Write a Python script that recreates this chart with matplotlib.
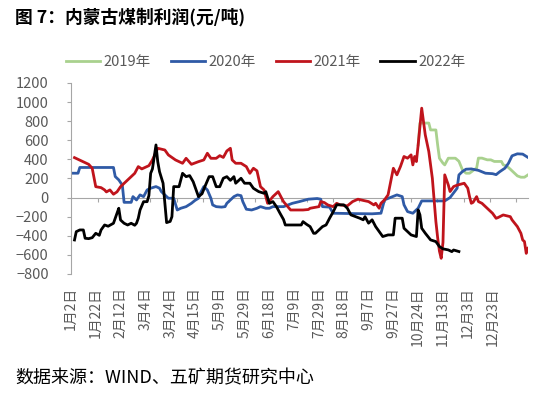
import matplotlib
matplotlib.use("Agg")
import matplotlib.pyplot as plt

plt.rcParams['font.family'] = ['Noto Sans CJK SC', 'DejaVu Sans']

# category axis: trading-day slots 0..258, labelled every 14 slots
n_days = 259
x_labels = ["1月2日", "1月22日", "2月12日", "3月4日", "3月24日", "4月15日", "5月9日",
            "5月29日", "6月18日", "7月9日", "7月29日", "8月18日", "9月7日", "9月27日",
            "10月24日", "11月13日", "12月3日", "12月23日"]
label_step = 14

# (trading-day slot, profit) pairs per year
s2019 = [(196, 552), (197, 780), (202, 780), (203, 708), (206, 708), (207, 550), (208, 412),
         (210, 360), (211, 342), (213, 412), (217, 412), (219, 380), (221, 290), (223, 255),
         (225, 255), (228, 297), (229, 308), (230, 413), (232, 413), (235, 395), (237, 395),
         (239, 378), (243, 378), (244, 343), (246, 330), (248, 297), (250, 262), (252, 227),
         (254, 213), (256, 213), (258, 238)]

s2020 = [(0, 255), (4, 255), (5, 315), (24, 315), (25, 220), (27, 185), (29, 130), (30, -50),
         (34, -50), (35, 10), (37, -25), (39, 28), (41, 10), (43, 80), (45, 98), (48, 115),
         (50, 98), (51, 63), (53, 28), (55, -7), (58, -7), (60, -130), (62, -112), (65, -95),
         (68, -60), (70, -30), (72, -7), (73, 45), (75, 115), (77, 80), (79, -7), (80, -77),
         (82, -95), (85, -100), (87, -95), (88, -60), (92, 10), (94, 28), (96, 20), (97, -42),
         (99, -122), (102, -130), (105, -112), (107, -95), (110, -112), (112, -112),
         (114, -95), (120, -95), (125, -60), (129, -42), (134, -17), (139, -10), (141, -17),
         (142, -95), (146, -100), (148, -164), (160, -168), (170, -170), (175, -164),
         (177, -24), (184, 28), (187, 10), (188, -76), (190, -147), (193, -164), (196, -111),
         (198, -35), (211, -35), (214, 0), (218, 98), (219, 237), (221, 273), (223, 297),
         (226, 300), (230, 285), (234, 255), (238, 250), (240, 240), (242, 270), (245, 308),
         (247, 360), (249, 437), (252, 458), (255, 455), (258, 420)]

s2021 = [(2, 418), (6, 383), (10, 348), (12, 307), (14, 114), (17, 104), (19, 80), (20, 59),
         (22, 80), (24, 35), (26, 60), (28, 114), (32, 184), (36, 254), (38, 324), (40, 300),
         (44, 334), (46, 394), (49, 516), (53, 498), (55, 446), (59, 394), (63, 359),
         (65, 411), (68, 348), (72, 376), (75, 394), (77, 464), (79, 411), (82, 411),
         (84, 439), (86, 420), (88, 488), (90, 516), (91, 394), (93, 359), (96, 359),
         (99, 324), (101, 254), (103, 307), (105, 280), (107, 114), (109, 80), (111, -60),
         (114, 10), (117, 62), (120, -43), (124, -130), (127, -130), (131, -130), (134, -125),
         (135, -112), (140, -95), (141, -42), (143, -52), (145, -77), (148, -95), (150, -60),
         (152, -77), (156, -87), (159, -42), (162, -17), (165, -30), (168, -42), (171, -77),
         (172, -60), (174, -112), (175, -60), (177, -24), (179, 28), (182, 307), (184, 238),
         (186, 325), (188, 430), (190, 412), (192, 447), (193, 342), (194, 430), (195, 377),
         (196, 552), (198, 936), (200, 657), (202, 482), (204, 203), (206, -251),
         (207, -420), (208, -560), (209, -636), (210, -470), (211, 238), (213, 133),
         (214, 63), (216, 115), (218, 130), (220, 140), (222, 150), (224, 98), (225, 10),
         (226, -60), (227, -50), (229, 10), (230, -42), (232, -60), (234, -95), (236, -130),
         (238, -165), (240, -217), (241, -210), (244, -182), (248, -200), (249, -234),
         (252, -304), (254, -374), (255, -444), (256, -460), (257, -584), (258, -531)]

s2022 = [(2, -444), (3, -357), (5, -339), (7, -339), (8, -426), (10, -430), (12, -420),
         (14, -374), (16, -395), (17, -339), (19, -287), (21, -300), (24, -269), (26, -164),
         (27, -112), (28, -235), (30, -269), (32, -287), (34, -269), (36, -290), (37, -269),
         (38, -217), (39, -130), (41, -43), (43, -43), (44, 20), (45, 254), (46, 300),
         (48, 551), (49, 376), (50, 271), (52, 150), (54, -262), (56, -250), (57, -200),
         (58, 115), (60, 114), (61, 114), (63, 254), (65, 219), (67, 230), (69, 166),
         (72, 10), (74, 40), (76, 132), (78, 219), (80, 219), (82, 114), (84, 114), (86, 202),
         (88, 219), (90, 180), (92, 219), (93, 150), (96, 202), (98, 150), (101, 150),
         (103, 97), (106, 62), (109, 45), (110, 62), (112, -60), (114, -42), (116, -95),
         (118, -164), (120, -230), (121, -287), (130, -287), (131, -252), (133, -280),
         (135, -304), (137, -374), (138, -374), (140, -339), (142, -304), (144, -287),
         (145, -252), (146, -216), (148, -150), (150, -76), (154, -76), (156, -111),
         (158, -181), (163, -216), (165, -233), (166, -200), (168, -268), (170, -233),
         (172, -304), (174, -356), (176, -408), (179, -391), (182, -391), (183, -216),
         (187, -216), (188, -321), (190, -356), (192, -391), (195, -408), (196, -129),
         (197, -181), (198, -321), (200, -373), (203, -443), (206, -461), (208, -513),
         (210, -537), (213, -548), (215, -566), (216, -549), (219, -565)]

y_ticks = list(range(-800, 1201, 200))

c2019 = "#A9D18E"
c2020 = "#2F5AA6"
c2021 = "#C0141C"
c2022 = "#000000"
gray = "#595959"
axis_gray = "#A6A6A6"

fig = plt.figure(figsize=(5.5, 3.98), dpi=100)
ax = fig.add_axes([0.129, 0.3116, 0.831, 0.48])

lw = 2.0
handles = []
for data, col, lab in [(s2019, c2019, "2019年"), (s2020, c2020, "2020年"),
                       (s2021, c2021, "2021年"), (s2022, c2022, "2022年")]:
    d, v = zip(*data)
    h, = ax.plot(d, v, color=col, lw=lw, label=lab)
    handles.append(h)

ax.set_xlim(0, n_days - 1)
ax.set_ylim(-800, 1200)
ax.set_yticks(y_ticks)
ax.set_yticklabels([f"{t}".replace("-", "\u2212") for t in y_ticks])

for s in ["top", "right", "bottom"]:
    ax.spines[s].set_visible(False)
ax.spines["left"].set_color(axis_gray)
ax.spines["left"].set_linewidth(0.8)
ax.tick_params(axis="y", direction="out", length=3, width=0.8, color=axis_gray,
               labelcolor=gray, labelsize=10.5, pad=13)

ax.set_xticks([i * label_step for i in range(len(x_labels))])
ax.set_xticklabels(x_labels, rotation=90, va="top", ha="center")
ax.tick_params(axis="x", length=0, pad=9.5, labelcolor=gray, labelsize=10)

sec = ax.secondary_xaxis(0.4)
sec.set_xticks([15.4 + k * 14.73 for k in range(17)])
sec.set_xticklabels([])
sec.tick_params(axis="x", direction="out", length=3, width=0.8, color=axis_gray)
sec.spines["bottom"].set_color(axis_gray)
sec.spines["bottom"].set_linewidth(0.8)

leg = fig.legend(handles=handles, loc="center", bbox_to_anchor=(0.483, 0.845),
                 ncol=4, frameon=False, fontsize=10.5, handlelength=2.35,
                 handletextpad=0.25, columnspacing=1.35, borderaxespad=0)
for t in leg.get_texts():
    t.set_color(gray)

fig.text(0.027, 0.957, "图 7：内蒙古煤制利润(元/吨)", fontsize=12.8, fontweight="bold",
         color="#000000", ha="left", va="center")
fig.text(0.027, 0.05, "数据来源：WIND、五矿期货研究中心", fontsize=13,
         color="#000000", ha="left", va="center")

fig.savefig("out.png", dpi=100)
